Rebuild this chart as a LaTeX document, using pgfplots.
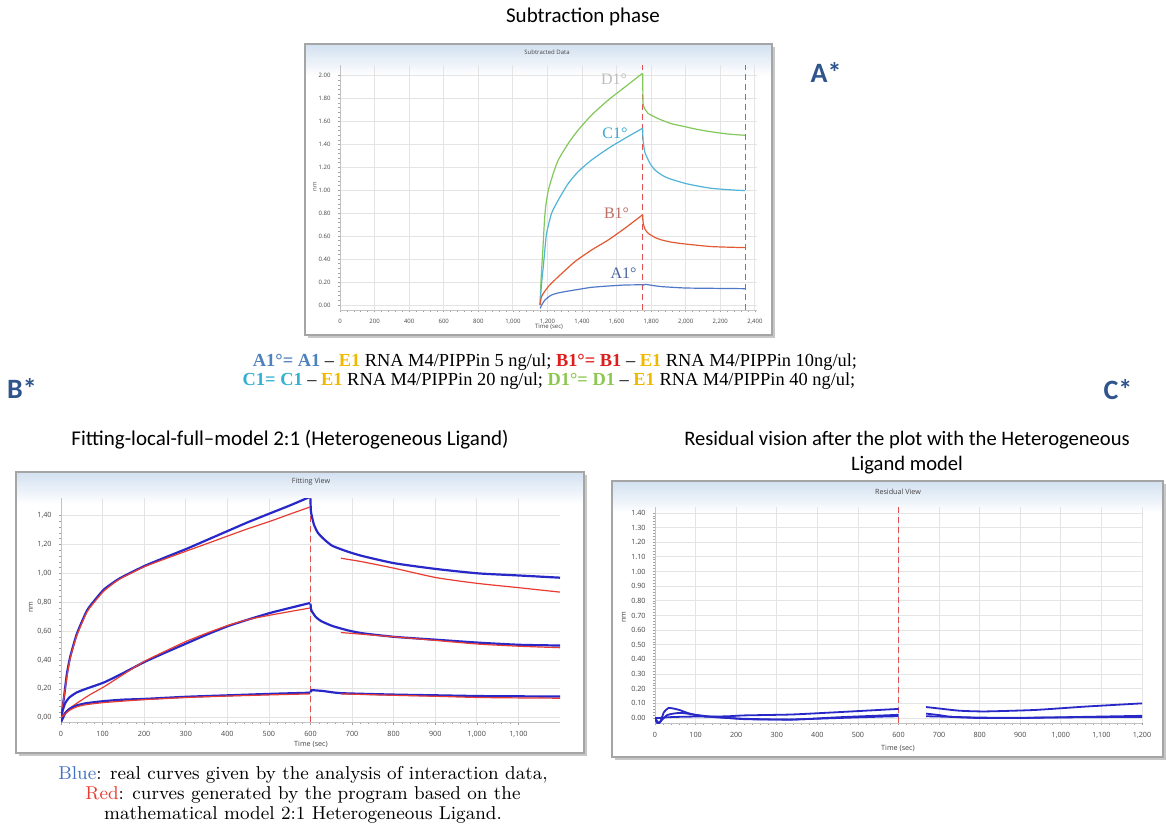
\documentclass[border=0pt]{standalone}
\usepackage{fontspec}
\usepackage{pgfplots}
\pgfplotsset{compat=1.18}
\newfontfamily\carlito{Carlito}
\newfontfamily\libserif{Liberation Serif}
\newfontfamily\ticksans{Open Sans}
\definecolor{starblue}{RGB}{47,85,140}
\definecolor{framegray}{RGB}{165,165,165}
\definecolor{framblue}{RGB}{210,224,240}
\definecolor{tickgray}{RGB}{70,70,70}
\definecolor{gridgray}{RGB}{228,228,228}
\definecolor{axgray}{RGB}{195,195,195}
\definecolor{tkgray}{RGB}{160,160,160}
\definecolor{cD}{RGB}{130,200,90}
\definecolor{cC}{RGB}{80,180,215}
\definecolor{cB}{RGB}{225,90,50}
\definecolor{cA}{RGB}{80,120,200}
\definecolor{lD}{RGB}{190,190,190}
\definecolor{lC}{RGB}{55,170,210}
\definecolor{lB}{RGB}{190,110,100}
\definecolor{lA}{RGB}{70,100,160}
\definecolor{capA}{RGB}{79,129,189}
\definecolor{capE}{RGB}{240,185,0}
\definecolor{capB}{RGB}{220,30,30}
\definecolor{capC}{RGB}{50,175,210}
\definecolor{capD}{RGB}{140,200,80}
\definecolor{realblue}{RGB}{40,40,200}
\definecolor{fitred}{RGB}{232,60,50}
\definecolor{phasered}{RGB}{228,80,80}
\definecolor{blueword}{RGB}{68,114,196}
\newcommand\panelframe[4]{%
  \fill[black!22] (#1+1.5pt,#2-1.5pt) rectangle (#3+1.5pt,#4-1.5pt);
  \fill[white] (#1,#2) rectangle (#3,#4);
  \shade[top color=framblue, bottom color=white] (#1,#4-16pt) rectangle (#3,#4);
  \draw[draw=framegray, line width=0.6pt] (#1,#2) rectangle (#3,#4);
}
\pgfplotsset{panel/.style={
  scale only axis, anchor=south west,
  axis lines*=left,
  axis line style={draw=axgray, line width=0.4pt},
  grid=major, grid style={draw=gridgray, line width=0.4pt},
  tick style={draw=tkgray, line width=0.3pt},
  major tick length=1.2pt, minor tick length=0.8pt, minor tick num=4,
  tick align=outside,
  tick label style={font=\ticksans\fontsize{#1}{#1}\selectfont, color=tickgray},
  /pgf/number format/assume math mode=true,
  scaled ticks=false, clip=true,
  x tick label style={/pgf/number format/1000 sep={,}},
}}
\begin{document}
\begin{tikzpicture}
\path[use as bounding box] (0,0) rectangle (583pt,418pt);

% ---------------- titles and labels
\node[font=\carlito\fontsize{10.5}{12}\selectfont] at (291.5pt,409.5pt) {Subtraction phase};
\node[font=\carlito\bfseries\fontsize{14}{16}\selectfont, text=starblue] at (413pt,382pt) {A*};
\node[font=\carlito\bfseries\fontsize{14}{16}\selectfont, text=starblue] at (11pt,224pt) {B*};
\node[font=\carlito\bfseries\fontsize{14}{16}\selectfont, text=starblue] at (559pt,223pt) {C*};

% ---------------- panel A
\panelframe{152.5pt}{250.5pt}{386pt}{396pt}
\begin{axis}[panel=3, at={(170pt,263pt)}, width=208.3pt, height=122.5pt,
  xmin=0, xmax=2410, ymin=-0.044, ymax=2.093,
  xtick={0,200,400,600,800,1000,1200,1400,1600,1800,2000,2200,2400},
  ytick={0,0.2,0.4,0.6,0.8,1,1.2,1.4,1.6,1.8,2},
  y tick label style={/pgf/number format/fixed,/pgf/number format/fixed zerofill,/pgf/number format/precision=2}]
\addplot[draw=phasered, line width=0.5pt, densely dashed] coordinates {(1750,-0.044) (1750,2.093)};
\addplot[draw=phasered, line width=0.5pt, densely dashed] coordinates {(2343,-0.044) (2343,2.093)};
% D1
\addplot[cD, line width=0.6pt, smooth, tension=0.35] coordinates {(1157,0.00) (1163,0.22) (1170,0.40) (1176,0.55) (1183,0.74) (1190,0.86) (1205,1.00) (1234,1.148) (1263,1.265) (1321,1.41) (1378,1.526) (1456,1.657) (1552,1.788) (1648,1.90) (1749,2.02)};
\addplot[cD, line width=0.6pt, smooth, tension=0.35] coordinates {(1751,2.02) (1753,1.76) (1760,1.72) (1783,1.67) (1820,1.64) (1860,1.613) (1920,1.58) (1995,1.555) (2070,1.53) (2150,1.51) (2250,1.49) (2342,1.48)};
% C1
\addplot[cC, line width=0.6pt, smooth, tension=0.35] coordinates {(1157,0.00) (1164,0.15) (1170,0.25) (1176,0.334) (1185,0.48) (1195,0.625) (1224,0.80) (1263,0.916) (1321,1.061) (1378,1.163) (1456,1.265) (1552,1.366) (1648,1.453) (1749,1.54)};
\addplot[cC, line width=0.6pt, smooth, tension=0.35] coordinates {(1751,1.54) (1753,1.44) (1762,1.34) (1774,1.294) (1795,1.23) (1822,1.177) (1860,1.135) (1899,1.105) (1995,1.061) (2070,1.037) (2150,1.017) (2250,1.005) (2342,0.997)};
% B1
\addplot[cB, line width=0.6pt, smooth, tension=0.35] coordinates {(1157,0.00) (1165,0.07) (1176,0.10) (1205,0.16) (1263,0.247) (1359,0.378) (1456,0.48) (1552,0.567) (1648,0.669) (1749,0.785)};
\addplot[cB, line width=0.6pt, smooth, tension=0.35] coordinates {(1751,0.785) (1754,0.712) (1765,0.66) (1783,0.625) (1820,0.59) (1860,0.567) (1920,0.547) (1995,0.532) (2150,0.509) (2342,0.50)};
% A1
\addplot[cA, line width=0.6pt, smooth, tension=0.35] coordinates {(1158,-0.03) (1165,-0.005) (1175,0.02) (1186,0.044) (1205,0.068) (1224,0.087) (1260,0.104) (1301,0.116) (1380,0.136) (1456,0.154) (1550,0.165) (1648,0.174) (1749,0.176)};
\addplot[cA, line width=0.6pt, smooth, tension=0.35] coordinates {(1751,0.17) (1765,0.18) (1800,0.172) (1860,0.16) (1995,0.148) (2150,0.145) (2342,0.142)};
\node[font=\libserif\fontsize{8}{9}\selectfont, text=lD] at (axis cs:1585,1.97) {D1°};
\node[font=\libserif\fontsize{8}{9}\selectfont, text=lC] at (axis cs:1590,1.50) {C1°};
\node[font=\libserif\fontsize{8}{9}\selectfont, text=lB] at (axis cs:1600,0.80) {B1°};
\node[font=\libserif\fontsize{8}{9}\selectfont, text=lA] at (axis cs:1640,0.28) {A1°};
\end{axis}
\node[font=\ticksans\fontsize{3}{3}\selectfont, text=tickgray] at (273.5pt,392pt) {Subtracted Data};
\node[font=\ticksans\fontsize{3}{3}\selectfont, text=tickgray] at (274.5pt,254.5pt) {Time (sec)};
\node[font=\ticksans\fontsize{3}{3}\selectfont, text=tickgray, rotate=90] at (157.5pt,324.5pt) {nm};

% ---------------- caption A
\node[font=\libserif\fontsize{9.2}{10}\selectfont] at (277.5pt,237pt)
 {\textcolor{capA}{\bfseries A1°= A1} – \textcolor{capE}{\bfseries E1} RNA M4/PIPPin 5 ng/ul; \textcolor{capB}{\bfseries B1°= B1} – \textcolor{capE}{\bfseries E1} RNA M4/PIPPin 10ng/ul;};
\node[font=\libserif\fontsize{9.2}{10}\selectfont] at (274.5pt,227.5pt)
 {\textcolor{capC}{\bfseries C1= C1} – \textcolor{capE}{\bfseries E1} RNA M4/PIPPin 20 ng/ul; \textcolor{capD}{\bfseries D1°= D1} – \textcolor{capE}{\bfseries E1} RNA M4/PIPPin 40 ng/ul;};

% ---------------- panel B
\node[font=\carlito\fontsize{10.5}{12}\selectfont] at (145pt,198pt) {Fitting-local-full–model 2:1 (Heterogeneous Ligand)};
\panelframe{8pt}{41.5pt}{292pt}{182pt}
\begin{axis}[panel=3.6, at={(30.5pt,56.85pt)}, width=249.5pt, height=112pt,
  xmin=0, xmax=1200, ymin=-0.032, ymax=1.52,
  xtick={0,100,200,300,400,500,600,700,800,900,1000,1100},
  ytick={0,0.2,0.4,0.6,0.8,1,1.2,1.4},
  y tick label style={/pgf/number format/use comma,/pgf/number format/fixed,/pgf/number format/fixed zerofill,/pgf/number format/precision=2}]
\addplot[draw=phasered, line width=0.5pt, densely dashed] coordinates {(600,-0.032) (600,1.52)};
% top
\addplot[realblue, line width=1.1pt, smooth, tension=0.35] coordinates {(0,-0.03) (3,0.05) (8,0.16) (14,0.30) (22,0.42) (38,0.58) (62,0.74) (80,0.81) (104,0.89) (141,0.965) (200,1.05) (250,1.11) (302,1.17) (350,1.23) (402,1.295) (450,1.355) (502,1.415) (550,1.47) (599,1.53)};
\addplot[realblue, line width=1.1pt, smooth, tension=0.35] coordinates {(600,1.52) (601,1.43) (608,1.34) (618,1.28) (635,1.23) (653,1.19) (690,1.15) (725,1.12) (802,1.07) (903,1.03) (1003,1.00) (1103,0.985) (1200,0.97)};
\addplot[fitred, line width=0.6pt, smooth, tension=0.35] coordinates {(0,0.0) (5,0.1) (14,0.28) (22,0.41) (38,0.57) (62,0.73) (80,0.80) (104,0.88) (141,0.96) (200,1.045) (250,1.10) (302,1.155) (350,1.205) (402,1.26) (450,1.31) (502,1.36) (550,1.41) (599,1.46)};
\addplot[fitred, line width=0.6pt, smooth, tension=0.35] coordinates {(673,1.105) (725,1.08) (802,1.035) (903,0.97) (1003,0.93) (1103,0.90) (1200,0.87)};
% middle
\addplot[realblue, line width=1.1pt, smooth, tension=0.35] coordinates {(0,0.0) (4,0.05) (10,0.10) (20,0.14) (38,0.175) (60,0.20) (104,0.245) (150,0.31) (200,0.385) (250,0.45) (302,0.515) (350,0.575) (402,0.635) (450,0.68) (502,0.725) (550,0.76) (599,0.795)};
\addplot[realblue, line width=1.1pt, smooth, tension=0.35] coordinates {(600,0.79) (602,0.745) (612,0.70) (625,0.67) (653,0.635) (690,0.605) (725,0.585) (802,0.56) (903,0.54) (1003,0.52) (1103,0.505) (1200,0.50)};
\addplot[fitred, line width=0.6pt, smooth, tension=0.35] coordinates {(0,0.0) (14,0.05) (38,0.10) (70,0.16) (104,0.215) (150,0.30) (200,0.39) (250,0.46) (302,0.53) (350,0.585) (402,0.64) (450,0.68) (502,0.71) (550,0.735) (599,0.76)};
\addplot[fitred, line width=0.6pt, smooth, tension=0.35] coordinates {(673,0.59) (725,0.578) (802,0.56) (903,0.535) (1003,0.51) (1103,0.495) (1200,0.485)};
% bottom
\addplot[realblue, line width=1.1pt, smooth, tension=0.35] coordinates {(0,-0.03) (5,0.0) (10,0.03) (20,0.06) (38,0.085) (60,0.10) (104,0.115) (150,0.125) (200,0.13) (302,0.145) (402,0.155) (502,0.165) (599,0.173)};
\addplot[realblue, line width=1.1pt, smooth, tension=0.35] coordinates {(600,0.175) (603,0.19) (630,0.185) (673,0.17) (802,0.16) (903,0.155) (1003,0.15) (1103,0.148) (1200,0.147)};
\addplot[fitred, line width=0.6pt, smooth, tension=0.35] coordinates {(0,0.0) (20,0.05) (38,0.075) (60,0.09) (104,0.105) (200,0.125) (302,0.14) (402,0.15) (502,0.158) (599,0.165)};
\addplot[fitred, line width=0.6pt, smooth, tension=0.35] coordinates {(673,0.165) (802,0.155) (903,0.148) (1003,0.14) (1103,0.137) (1200,0.135)};
\end{axis}
\node[font=\ticksans\fontsize{3.6}{4}\selectfont, text=tickgray] at (155.5pt,177pt) {Fitting View};
\node[font=\ticksans\fontsize{3.6}{4}\selectfont, text=tickgray] at (155.5pt,46pt) {Time (sec)};
\node[font=\ticksans\fontsize{3.6}{4}\selectfont, text=tickgray, rotate=90] at (15.5pt,114.5pt) {nm};

% ---------------- caption B
\node[align=center, font=\fontsize{9.3}{10}\selectfont] at (151.5pt,20.5pt)
 {\textcolor{blueword}{Blue}: real curves given by the analysis of interaction data,\\
  \textcolor{fitred}{Red}: curves generated by the program based on the\\
  mathematical model 2:1 Heterogeneous Ligand.};

% ---------------- panel C
\node[font=\carlito\fontsize{10.3}{12}\selectfont, align=center] at (453.5pt,191.75pt) {Residual vision after the plot with the Heterogeneous\\[0.5pt] Ligand model};
\panelframe{306pt}{39.5pt}{581.5pt}{177.5pt}
\begin{axis}[panel=3.6, at={(327.5pt,56.5pt)}, width=243.5pt, height=108.2pt,
  xmin=0, xmax=1200, ymin=-0.034, ymax=1.443,
  xtick={0,100,200,300,400,500,600,700,800,900,1000,1100,1200},
  ytick={0,0.1,0.2,0.3,0.4,0.5,0.6,0.7,0.8,0.9,1,1.1,1.2,1.3,1.4},
  y tick label style={/pgf/number format/fixed,/pgf/number format/fixed zerofill,/pgf/number format/precision=2}]
\addplot[draw=phasered, line width=0.5pt, densely dashed] coordinates {(600,-0.034) (600,1.443)};
\addplot[realblue, line width=0.9pt, smooth, tension=0.35] coordinates {(0,0.0) (4,-0.03) (8,-0.04) (14,-0.02) (22,0.04) (33,0.068) (45,0.065) (60,0.055) (80,0.035) (100,0.02) (130,0.01) (180,0.012) (221,0.018) (336,0.024) (451,0.04) (565,0.057) (600,0.062)};
\addplot[realblue, line width=0.9pt, smooth, tension=0.35] coordinates {(0,0.0) (5,-0.02) (10,-0.035) (18,-0.01) (30,0.02) (45,0.03) (62,0.035) (80,0.03) (100,0.022) (150,0.005) (221,-0.005) (336,-0.011) (451,0.005) (565,0.018) (600,0.022)};
\addplot[realblue, line width=0.9pt, smooth, tension=0.35] coordinates {(0,0.0) (10,0.0) (30,0.005) (60,0.008) (100,0.01) (150,0.008) (221,-0.008) (336,-0.01) (451,0.0) (565,0.01) (600,0.012)};
\addplot[realblue, line width=0.9pt, smooth, tension=0.35] coordinates {(668,0.075) (700,0.065) (750,0.05) (813,0.045) (936,0.055) (1060,0.078) (1200,0.10)};
\addplot[realblue, line width=0.9pt, smooth, tension=0.35] coordinates {(668,0.03) (700,0.02) (730,0.008) (800,0.0) (895,0.0) (1000,0.005) (1100,0.01) (1200,0.015)};
\addplot[realblue, line width=0.9pt, smooth, tension=0.35] coordinates {(668,0.012) (700,0.01) (800,0.003) (900,0.002) (1000,0.004) (1100,0.006) (1200,0.008)};
\end{axis}
\node[font=\ticksans\fontsize{3.6}{4}\selectfont, text=tickgray] at (449pt,172pt) {Residual View};
\node[font=\ticksans\fontsize{3.6}{4}\selectfont, text=tickgray] at (449pt,44pt) {Time (sec)};
\node[font=\ticksans\fontsize{3.6}{4}\selectfont, text=tickgray, rotate=90] at (312pt,109.5pt) {nm};
\end{tikzpicture}
\end{document}
